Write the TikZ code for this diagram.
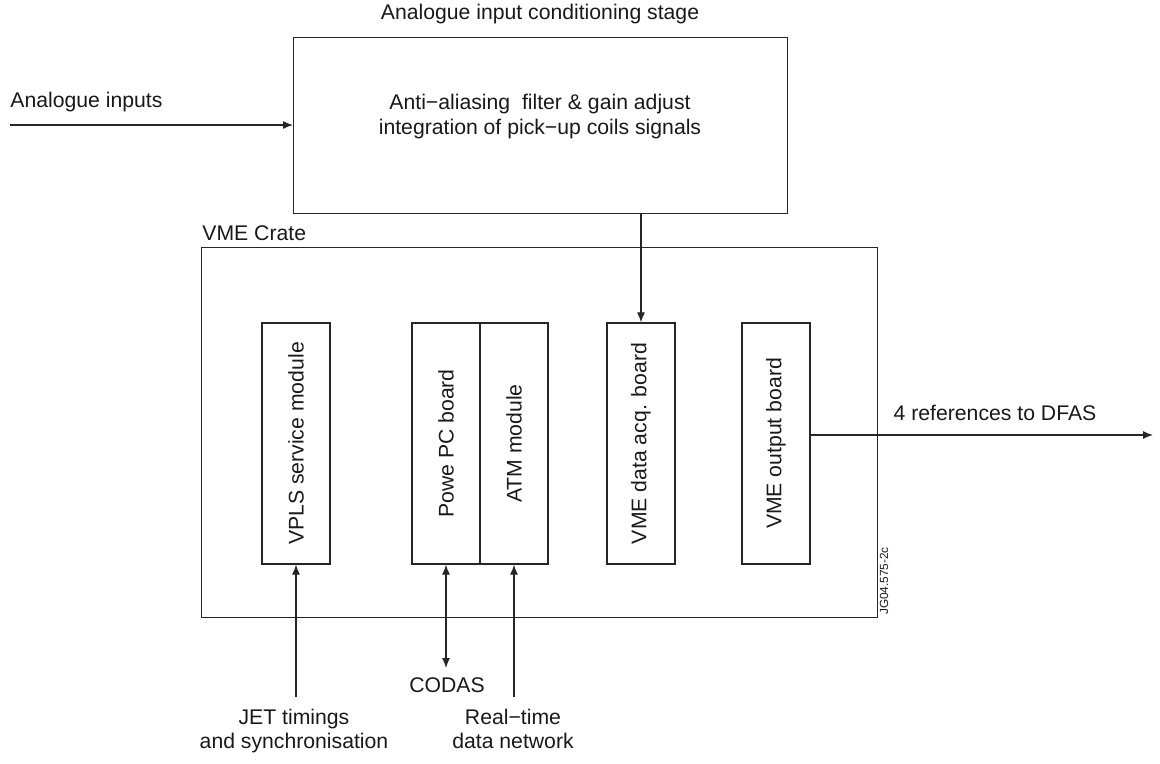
\documentclass[tikz,border=0pt]{standalone}
\usepackage{fontspec}
\setmainfont{Liberation Sans}
\usetikzlibrary{arrows.meta}
\begin{document}
\begin{tikzpicture}[x=0.5pt,y=-0.5pt,
  every node/.style={font=\fontsize{10.6}{12}\selectfont, text=black!90},
  ln/.style={draw=black!85, line width=0.6pt},
  arr/.style={ln, -{Latex[length=5pt,width=4pt]}},
  darr/.style={ln, {Latex[length=5pt,width=4pt]}-{Latex[length=5pt,width=4pt]}},
  bigbox/.style={ln, rectangle, inner sep=0pt, anchor=north west},
  module/.style={ln, rectangle, inner sep=0pt, minimum width=34pt, minimum height=120.5pt},
  lbl/.style={inner sep=0pt, align=center},
  modtxt/.style={inner sep=0pt, rotate=90}
]
\useasboundingbox (0,0) rectangle (1160,764);

% conditioning stage
\node[bigbox, minimum width=247pt, minimum height=88pt] (cond) at (293,37) {};
\node[lbl] (condtitle) at (540,14) {Analogue input conditioning stage};
\node[lbl] (condtxt1) at (540,104) {Anti−aliasing\ \ filter \& gain adjust};
\node[lbl] (condtxt2) at (540,129) {integration of pick−up coils signals};

% analogue inputs
\node[lbl, anchor=west] (aintxt) at (10,102) {Analogue inputs};
\coordinate (ain) at (10,125);
\draw[arr] (ain) -- (ain -| cond.west);

% VME crate
\node[bigbox, minimum width=338pt, minimum height=185pt] (crate) at (201,247) {};
\node[lbl, anchor=west] (cratetxt) at (202,233) {VME Crate};

% modules
\node[module] (vpls) at (296,443.5) {};
\node[modtxt] at (vpls.center) {VPLS service module};
\node[module] (ppc) at (446,443.5) {};
\node[modtxt] at (ppc.center) {Powe PC board};
\node[module] (atm) at (514,443.5) {};
\node[modtxt] at (atm.center) {ATM module};
\node[module] (vmed) at (641,443.5) {};
\node[modtxt] at (vmed.center) {VME data acq. board};
\node[module] (vmeo) at (776,443.5) {};
\node[modtxt] at (vmeo.center) {VME output board};

% cond -> data acq
\draw[arr] (vmed.north |- cond.south) -- (vmed.north);

% output
\coordinate (dfas) at (1153,435);
\draw[arr] (vmeo.east |- dfas) -- (dfas);
\node[lbl] (dfastxt) at (995,413) {4 references to DFAS};

% bottom connections
\coordinate (jet) at (296,697);
\draw[arr] (jet) -- (vpls.south);
\node[lbl, anchor=north] (jettxt) at (294,709) {JET timings\\and synchronisation};

\coordinate (codas) at (446,668);
\draw[darr] (codas) -- (ppc.south);
\node[lbl] (codastxt) at (447,685) {CODAS};

\coordinate (rtn) at (514,697);
\draw[arr] (rtn) -- (atm.south);
\node[lbl, anchor=north] (rtntxt) at (513,709) {Real−time\\data network};

% reference code
\node[inner sep=0pt, rotate=90, font=\fontsize{5.9}{7}\selectfont] (ref) at (884,581) {JG04.575-2c};
\end{tikzpicture}
\end{document}
